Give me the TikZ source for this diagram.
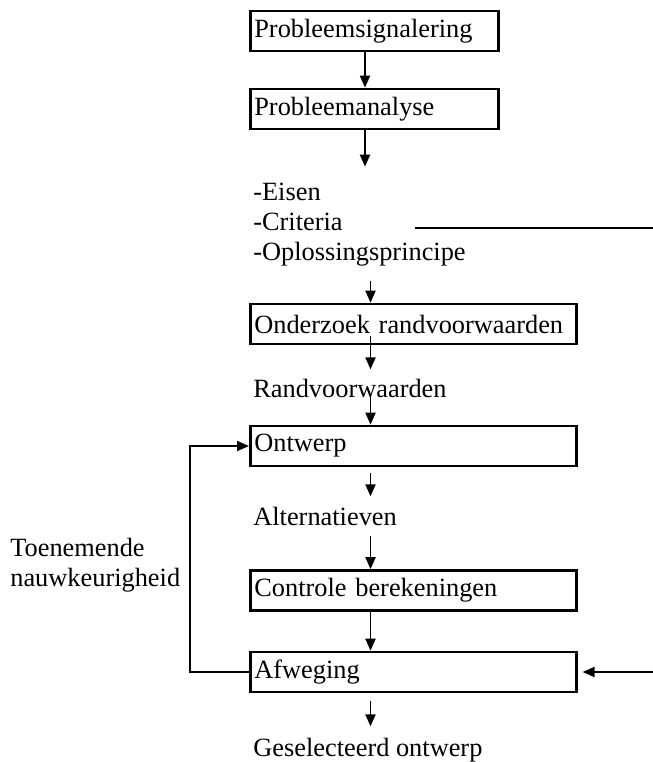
\documentclass[tikz,border=0pt]{standalone}
\usepackage{fontspec}
\setmainfont{Liberation Serif}
\usetikzlibrary{arrows.meta, calc}
\tikzset{
  stage/.style={
    draw,
    rectangle,
    line width=1.5pt,
    anchor=west,
    minimum height=0.8cm,
    inner xsep=0.08cm,
    align=left,
    font=\fontsize{15pt}{17pt}\selectfont
  },
  narrowstage/.style={stage, text width=4.8cm},
  widestage/.style={stage, text width=6.36cm},
  caption/.style={
    anchor=base west,
    inner sep=0pt,
    font=\fontsize{15pt}{17pt}\selectfont
  },
  arrow/.style={
    -{Triangle[length=2.4mm,width=2mm]},line width=1.1pt}
}

\begin{document}
\begin{tikzpicture}
\useasboundingbox (0,0) rectangle (13.06,-15.24);
\clip (0,0) rectangle (13.06,-15.24);

%% ---- problem phase ----
\node[narrowstage] (signal)  at (4.98,-0.62) {Probleemsignalering};
\node[narrowstage] (analyse) at (4.98,-2.18) {Probleemanalyse};

\node[caption] (eisen)    at (5.06,-4.0) {-Eisen};
\node[caption] (criteria) at (5.06,-4.6) {-Criteria};
\node[caption] (principe) at (5.06,-5.2) {-Oplossingsprincipe};

%% ---- design loop ----
\node[widestage] (onderzoek) at (4.98,-6.48) {Onderzoek randvoorwaarden};
\node[caption]   (randvw)    at (5.06,-7.94) {Randvoorwaarden};
\node[widestage] (ontwerp)   at (4.98,-8.92) {Ontwerp};
\node[caption]   (altern)    at (5.06,-10.5) {Alternatieven};
\node[widestage] (controle)  at (4.98,-11.81) {Controle berekeningen};
\node[widestage] (afweging)  at (4.98,-13.44) {Afweging};
\node[caption]   (select)    at (5.06,-15.12) {Geselecteerd ontwerp};

\node[anchor=west, inner sep=0pt, align=left,
      font=\fontsize{15pt}{17pt}\selectfont] (accuracy) at (0.2,-11.3)
  {Toenemende\\nauwkeurigheid};

%% ---- main flow ----
\coordinate (spineA) at (7.3,0);
\coordinate (spineB) at (7.41,0);

\draw[arrow] (signal.south -| spineA) -- (analyse.north -| spineA);
\draw[arrow, shorten >=0.31cm] (analyse.south -| spineA) -- (eisen.north -| spineA);
\draw[arrow, shorten <=0.29cm] (principe.south -| spineB) -- (onderzoek.north -| spineB);
\draw[arrow, shorten <=-0.18cm, shorten >=0.18cm]
  (onderzoek.south -| spineB) -- (randvw.north -| spineB);
\draw[arrow] (randvw.base -| spineB) -- (ontwerp.north -| spineB);
\draw[arrow, shorten <=0.12cm, shorten >=0.2cm]
  (ontwerp.south -| spineB) -- (altern.north -| spineB);
\draw[arrow, shorten <=0.2cm] (altern.south -| spineB) -- (controle.north -| spineB);
\draw[arrow] (controle.south -| spineB) -- (afweging.north -| spineB);
\draw[arrow, shorten <=0.16cm, shorten >=0.22cm]
  (afweging.south -| spineB) -- (select.north -| spineB);

%% ---- feedback ----
\draw[arrow] (afweging.west) -- ++(-1.18,0) |- (ontwerp.west);

\coordinate (critout) at (8.3,-4.56);
\draw[arrow, shorten >=0.1cm] (critout) -- ++(5.0,0) |- (afweging.east);

\end{tikzpicture}
\end{document}
